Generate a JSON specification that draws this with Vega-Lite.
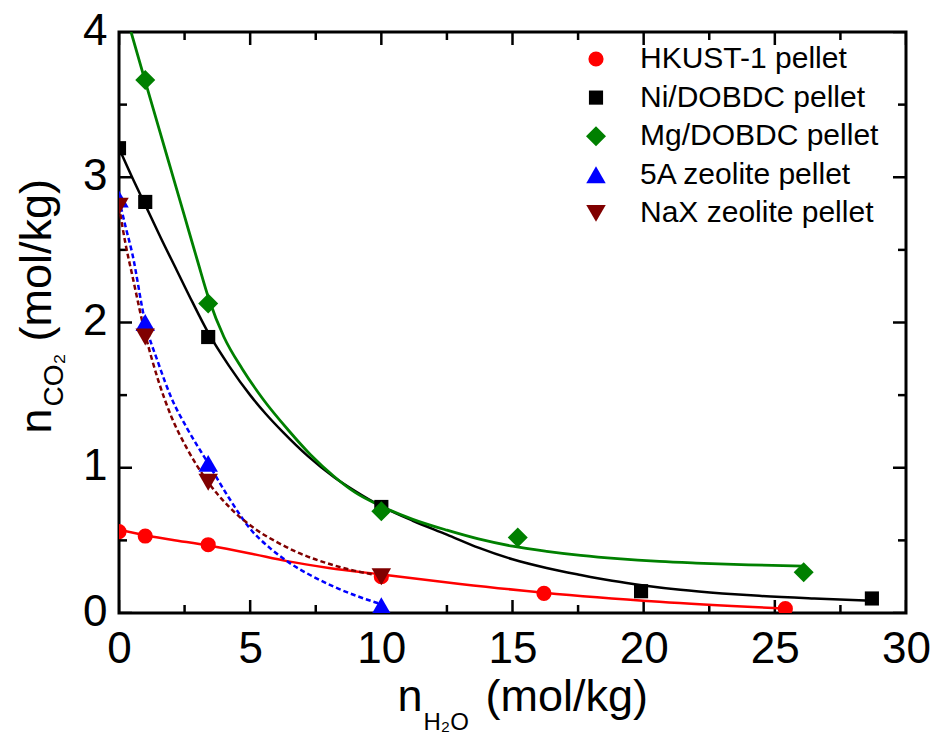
{
  "$schema": "https://vega.github.io/schema/vega-lite/v6.json",
  "autosize": "none",
  "padding": {"left": 119, "top": 32, "right": 29, "bottom": 127},
  "width": 787,
  "height": 581,
  "background": "white",
  "config": {
    "font": "Liberation Sans",
    "view": {"stroke": "black", "strokeWidth": 3},
    "axis": {
      "domain": false, "grid": false, "ticks": false, "tickSize": 0,
      "labelFont": "Liberation Sans", "labelFontSize": 44, "labelColor": "black",
      "labelFlush": false, "labelOverlap": false,
      "titleFont": "Liberation Sans", "titleFontWeight": "normal", "titleColor": "black",
      "titleFontSize": 45, "titleAlign": "left", "titleBaseline": "alphabetic", "titlePadding": 0
    }
  },
  "resolve": {"axis": {"x": "independent", "y": "independent"}},
  "layer": [
    {
      "data": {"values": [
        {"x": 0, "y": 0}, {"x": 5, "y": 0}, {"x": 10, "y": 0}, {"x": 15, "y": 0}, {"x": 20, "y": 0}, {"x": 25, "y": 0}, {"x": 30, "y": 0},
        {"x": 0, "y": 4}, {"x": 5, "y": 4}, {"x": 10, "y": 4}, {"x": 15, "y": 4}, {"x": 20, "y": 4}, {"x": 25, "y": 4}, {"x": 30, "y": 4}
      ]},
      "mark": {"type": "tick", "orient": "vertical", "size": 26, "thickness": 2.5, "color": "black", "opacity": 1, "clip": true},
      "encoding": {
        "x": {"field": "x", "type": "quantitative", "scale": {"domain": [0, 30], "nice": false, "zero": false},
          "axis": {"orient": "bottom", "values": [0, 5, 10, 15, 20, 25, 30], "labelPadding": 14,
            "title": "n", "titleX": 278, "titleY": 97, "titleAngle": 0}},
        "y": {"field": "y", "type": "quantitative", "scale": {"domain": [0, 4], "nice": false, "zero": false},
          "axis": {"orient": "left", "values": [0, 1, 2, 3, 4], "labelPadding": 12, "labelOffset": -1,
            "title": "n", "titleAngle": -90, "titleX": -69, "titleY": 401}}
      }
    },
    {
      "data": {"values": [
        {"x": 2.5, "y": 0}, {"x": 7.5, "y": 0}, {"x": 12.5, "y": 0}, {"x": 17.5, "y": 0}, {"x": 22.5, "y": 0}, {"x": 27.5, "y": 0},
        {"x": 2.5, "y": 4}, {"x": 7.5, "y": 4}, {"x": 12.5, "y": 4}, {"x": 17.5, "y": 4}, {"x": 22.5, "y": 4}, {"x": 27.5, "y": 4}
      ]},
      "mark": {"type": "tick", "orient": "vertical", "size": 16, "thickness": 2.5, "color": "black", "opacity": 1, "clip": true},
      "encoding": {
        "x": {"field": "x", "type": "quantitative", "scale": {"domain": [0, 30], "nice": false, "zero": false},
          "axis": {"orient": "bottom", "labels": false, "title": "H₂O", "titleFontSize": 24, "titleX": 304, "titleY": 116, "titleAngle": 0}},
        "y": {"field": "y", "type": "quantitative", "scale": {"domain": [0, 4], "nice": false, "zero": false},
          "axis": {"orient": "left", "labels": false, "title": "CO₂", "titleFontSize": 28, "titleAngle": -90, "titleX": -57, "titleY": 374}}
      }
    },
    {
      "data": {"values": [
        {"x": 0, "y": 0}, {"x": 0, "y": 1}, {"x": 0, "y": 2}, {"x": 0, "y": 3}, {"x": 0, "y": 4},
        {"x": 30, "y": 0}, {"x": 30, "y": 1}, {"x": 30, "y": 2}, {"x": 30, "y": 3}, {"x": 30, "y": 4}
      ]},
      "mark": {"type": "tick", "orient": "horizontal", "size": 26, "thickness": 2.5, "color": "black", "opacity": 1, "clip": true},
      "encoding": {
        "x": {"field": "x", "type": "quantitative", "scale": {"domain": [0, 30], "nice": false, "zero": false},
          "axis": {"orient": "bottom", "labels": false, "title": "(mol/kg)", "titleX": 366, "titleY": 97, "titleAngle": 0}},
        "y": {"field": "y", "type": "quantitative", "scale": {"domain": [0, 4], "nice": false, "zero": false},
          "axis": {"orient": "left", "labels": false, "title": "(mol/kg)", "titleAngle": -90, "titleX": -69, "titleY": 309}}
      }
    },
    {
      "data": {"values": [
        {"x": 0, "y": 0.5}, {"x": 0, "y": 1.5}, {"x": 0, "y": 2.5}, {"x": 0, "y": 3.5},
        {"x": 30, "y": 0.5}, {"x": 30, "y": 1.5}, {"x": 30, "y": 2.5}, {"x": 30, "y": 3.5}
      ]},
      "mark": {"type": "tick", "orient": "horizontal", "size": 16, "thickness": 2.5, "color": "black", "opacity": 1, "clip": true},
      "encoding": {
        "x": {"field": "x", "type": "quantitative", "scale": {"domain": [0, 30], "nice": false, "zero": false}, "axis": null},
        "y": {"field": "y", "type": "quantitative", "scale": {"domain": [0, 4], "nice": false, "zero": false}, "axis": null}
      }
    },
    {
      "data": {"values": [
        {"x": 0, "y": 0.575}, {"x": 1, "y": 0.535}, {"x": 2, "y": 0.505}, {"x": 3.4, "y": 0.465},
        {"x": 5, "y": 0.41}, {"x": 6.4, "y": 0.357}, {"x": 8, "y": 0.31}, {"x": 10, "y": 0.265},
        {"x": 13, "y": 0.2}, {"x": 16.2, "y": 0.14}, {"x": 20.6, "y": 0.078}, {"x": 25.4, "y": 0.03}
      ]},
      "mark": {"type": "line", "color": "#FF0000", "strokeWidth": 2.5, "interpolate": "monotone", "clip": true},
      "encoding": {
        "x": {"field": "x", "type": "quantitative", "scale": {"domain": [0, 30], "nice": false, "zero": false}, "axis": null},
        "y": {"field": "y", "type": "quantitative", "scale": {"domain": [0, 4], "nice": false, "zero": false}, "axis": null}
      }
    },
    {
      "data": {"values": [
        {"x": 0, "y": 3.2}, {"x": 0.5, "y": 3.0}, {"x": 1, "y": 2.81}, {"x": 1.6, "y": 2.58}, {"x": 2.2, "y": 2.36},
        {"x": 2.8, "y": 2.14}, {"x": 3.4, "y": 1.93}, {"x": 4.2, "y": 1.7}, {"x": 5, "y": 1.5}, {"x": 5.6, "y": 1.37},
        {"x": 6.25, "y": 1.245}, {"x": 7.2, "y": 1.08}, {"x": 8.2, "y": 0.935}, {"x": 9, "y": 0.84}, {"x": 10, "y": 0.735},
        {"x": 11.2, "y": 0.635}, {"x": 12.5, "y": 0.54}, {"x": 13.7, "y": 0.45}, {"x": 15, "y": 0.37}, {"x": 16.3, "y": 0.31},
        {"x": 17.6, "y": 0.262}, {"x": 18.8, "y": 0.222}, {"x": 20, "y": 0.19}, {"x": 21.4, "y": 0.16}, {"x": 23, "y": 0.135},
        {"x": 24.4, "y": 0.118}, {"x": 26.5, "y": 0.1}, {"x": 28.7, "y": 0.085}
      ]},
      "mark": {"type": "line", "color": "#000000", "strokeWidth": 2.5, "interpolate": "monotone", "clip": true},
      "encoding": {
        "x": {"field": "x", "type": "quantitative", "scale": {"domain": [0, 30], "nice": false, "zero": false}, "axis": null},
        "y": {"field": "y", "type": "quantitative", "scale": {"domain": [0, 4], "nice": false, "zero": false}, "axis": null}
      }
    },
    {
      "data": {"values": [
        {"x": 0.46, "y": 4.0}, {"x": 1, "y": 3.66}, {"x": 1.5, "y": 3.35}, {"x": 2, "y": 3.04}, {"x": 2.5, "y": 2.73},
        {"x": 3, "y": 2.42}, {"x": 3.43, "y": 2.16}, {"x": 4, "y": 1.9}, {"x": 4.7, "y": 1.68}, {"x": 5.5, "y": 1.47},
        {"x": 6.45, "y": 1.26}, {"x": 7.3, "y": 1.09}, {"x": 8.2, "y": 0.94}, {"x": 9, "y": 0.83}, {"x": 10, "y": 0.735},
        {"x": 11.2, "y": 0.645}, {"x": 12.5, "y": 0.57}, {"x": 13.7, "y": 0.51}, {"x": 15, "y": 0.46}, {"x": 16.3, "y": 0.425},
        {"x": 17.6, "y": 0.397}, {"x": 19, "y": 0.374}, {"x": 20.6, "y": 0.355}, {"x": 22, "y": 0.344}, {"x": 24, "y": 0.332},
        {"x": 26.1, "y": 0.323}
      ]},
      "mark": {"type": "line", "color": "#008000", "strokeWidth": 2.8, "interpolate": "monotone", "clip": true},
      "encoding": {
        "x": {"field": "x", "type": "quantitative", "scale": {"domain": [0, 30], "nice": false, "zero": false}, "axis": null},
        "y": {"field": "y", "type": "quantitative", "scale": {"domain": [0, 4], "nice": false, "zero": false}, "axis": null}
      }
    },
    {
      "data": {"values": [
        {"x": 0, "y": 2.85}, {"x": 0.25, "y": 2.66}, {"x": 0.5, "y": 2.48}, {"x": 1, "y": 2.0}, {"x": 1.5, "y": 1.72},
        {"x": 2, "y": 1.48}, {"x": 2.6, "y": 1.27}, {"x": 3.4, "y": 1.03}, {"x": 4.2, "y": 0.79}, {"x": 5, "y": 0.58},
        {"x": 5.8, "y": 0.44}, {"x": 6.5, "y": 0.345}, {"x": 7.3, "y": 0.26}, {"x": 8.2, "y": 0.18}, {"x": 9.1, "y": 0.115},
        {"x": 10, "y": 0.06}
      ]},
      "mark": {"type": "line", "color": "#0000FF", "strokeWidth": 2.5, "strokeDash": [5, 3], "interpolate": "monotone", "clip": true},
      "encoding": {
        "x": {"field": "x", "type": "quantitative", "scale": {"domain": [0, 30], "nice": false, "zero": false}, "axis": null},
        "y": {"field": "y", "type": "quantitative", "scale": {"domain": [0, 4], "nice": false, "zero": false}, "axis": null}
      }
    },
    {
      "data": {"values": [
        {"x": 0, "y": 2.8}, {"x": 0.25, "y": 2.54}, {"x": 0.5, "y": 2.33}, {"x": 1, "y": 1.92}, {"x": 1.5, "y": 1.6},
        {"x": 2, "y": 1.35}, {"x": 2.6, "y": 1.13}, {"x": 3.4, "y": 0.9}, {"x": 4.2, "y": 0.73}, {"x": 5.26, "y": 0.57},
        {"x": 6, "y": 0.49}, {"x": 6.9, "y": 0.41}, {"x": 8.16, "y": 0.33}, {"x": 9, "y": 0.29}, {"x": 10, "y": 0.255}
      ]},
      "mark": {"type": "line", "color": "#800000", "strokeWidth": 2.5, "strokeDash": [5, 3], "interpolate": "monotone", "clip": true},
      "encoding": {
        "x": {"field": "x", "type": "quantitative", "scale": {"domain": [0, 30], "nice": false, "zero": false}, "axis": null},
        "y": {"field": "y", "type": "quantitative", "scale": {"domain": [0, 4], "nice": false, "zero": false}, "axis": null}
      }
    },
    {
      "data": {"values": [
        {"series": "HKUST-1 pellet", "x": 0, "y": 0.56}, {"series": "HKUST-1 pellet", "x": 1, "y": 0.53},
        {"series": "HKUST-1 pellet", "x": 3.4, "y": 0.47}, {"series": "HKUST-1 pellet", "x": 10, "y": 0.25},
        {"series": "HKUST-1 pellet", "x": 16.2, "y": 0.135}, {"series": "HKUST-1 pellet", "x": 25.4, "y": 0.03},
        {"series": "Ni/DOBDC pellet", "x": 0, "y": 3.2}, {"series": "Ni/DOBDC pellet", "x": 1, "y": 2.83},
        {"series": "Ni/DOBDC pellet", "x": 3.4, "y": 1.9}, {"series": "Ni/DOBDC pellet", "x": 10, "y": 0.73},
        {"series": "Ni/DOBDC pellet", "x": 19.9, "y": 0.15}, {"series": "Ni/DOBDC pellet", "x": 28.7, "y": 0.1},
        {"series": "Mg/DOBDC pellet", "x": 1, "y": 3.67}, {"series": "Mg/DOBDC pellet", "x": 3.4, "y": 2.13},
        {"series": "Mg/DOBDC pellet", "x": 10, "y": 0.7}, {"series": "Mg/DOBDC pellet", "x": 15.2, "y": 0.52},
        {"series": "Mg/DOBDC pellet", "x": 26.1, "y": 0.28},
        {"series": "5A zeolite pellet", "x": 0, "y": 2.85}, {"series": "5A zeolite pellet", "x": 1, "y": 2.0},
        {"series": "5A zeolite pellet", "x": 3.4, "y": 1.03}, {"series": "5A zeolite pellet", "x": 10, "y": 0.05},
        {"series": "NaX zeolite pellet", "x": 0, "y": 2.8}, {"series": "NaX zeolite pellet", "x": 1, "y": 1.9},
        {"series": "NaX zeolite pellet", "x": 3.4, "y": 0.9}, {"series": "NaX zeolite pellet", "x": 10, "y": 0.25}
      ]},
      "mark": {"type": "point", "filled": true, "opacity": 1, "strokeWidth": 0, "clip": true},
      "encoding": {
        "x": {"field": "x", "type": "quantitative", "scale": {"domain": [0, 30], "nice": false, "zero": false}, "axis": null},
        "y": {"field": "y", "type": "quantitative", "scale": {"domain": [0, 4], "nice": false, "zero": false}, "axis": null},
        "color": {"field": "series", "type": "nominal",
          "scale": {"domain": ["HKUST-1 pellet", "Ni/DOBDC pellet", "Mg/DOBDC pellet", "5A zeolite pellet", "NaX zeolite pellet"],
            "range": ["#FF0000", "#000000", "#008000", "#0000FF", "#800000"]},
          "legend": {"orient": "none", "legendX": 462, "legendY": 12, "title": null, "padding": 0,
            "labelFont": "Liberation Sans", "labelFontSize": 30, "labelColor": "black", "labelOffset": 29,
            "rowPadding": 8.6, "symbolStrokeWidth": 0, "symbolOpacity": 1, "labelLimit": 400}},
        "shape": {"field": "series", "type": "nominal",
          "scale": {"domain": ["HKUST-1 pellet", "Ni/DOBDC pellet", "Mg/DOBDC pellet", "5A zeolite pellet", "NaX zeolite pellet"],
            "range": ["circle", "square", "diamond", "triangle-up", "triangle-down"]},
          "legend": {"orient": "none", "legendX": 462, "legendY": 12, "title": null, "padding": 0,
            "labelFont": "Liberation Sans", "labelFontSize": 30, "labelColor": "black", "labelOffset": 29,
            "rowPadding": 8.6, "symbolStrokeWidth": 0, "symbolOpacity": 1, "labelLimit": 400}},
        "size": {"field": "series", "type": "nominal",
          "scale": {"type": "ordinal", "domain": ["HKUST-1 pellet", "Ni/DOBDC pellet", "Mg/DOBDC pellet", "5A zeolite pellet", "NaX zeolite pellet"],
            "range": [230, 200, 400, 380, 380]},
          "legend": {"orient": "none", "legendX": 462, "legendY": 12, "title": null, "padding": 0,
            "labelFont": "Liberation Sans", "labelFontSize": 30, "labelColor": "black", "labelOffset": 29,
            "rowPadding": 8.6, "symbolStrokeWidth": 0, "symbolOpacity": 1, "labelLimit": 400}}
      }
    }
  ]
}
